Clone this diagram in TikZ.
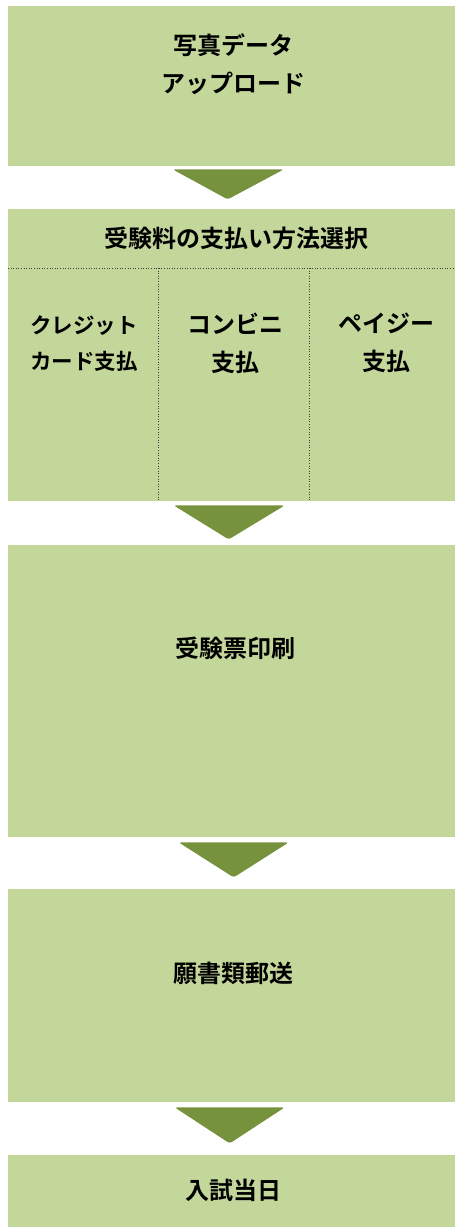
\documentclass[tikz,border=0pt]{standalone}
\usepackage{fontspec}
\setmainfont{Noto Sans CJK JP}[BoldFont={* Bold}]
\usetikzlibrary{calc}

\definecolor{boxgreen}{HTML}{C4D79B}
\definecolor{arrowgreen}{HTML}{76923C}

\begin{document}
\begin{tikzpicture}[x=1pt, y=-1pt,
  box/.style={fill=boxgreen, draw=none, anchor=north west, minimum width=447pt, inner sep=0pt},
  lbl/.style={align=center, inner sep=0pt, font=\bfseries\fontsize{24}{38}\selectfont},
  smalllbl/.style={lbl, font=\bfseries\fontsize{21.5}{36}\selectfont},
  stepmark/.style={fill=arrowgreen, rounded corners=2.5pt},
  divider/.style={draw=black!75, dotted, line width=0.6pt}]
  \useasboundingbox (0,0) rectangle (455,1227);
  %boxes
  \node[box, minimum height=160pt](photo) at (8,6){};
  \node[box, minimum height=292pt](pay) at (8,209){};
  \node[box, minimum height=292pt](ticket) at (8,545){};
  \node[box, minimum height=213pt](mail) at (8,889){};
  \node[box, minimum height=80pt](exam) at (8,1155){};
  % texts
  \node[lbl](photoT) at (233,64){写真データ\\アップロード};
  \node[lbl](payT) at (236,238){受験料の支払い方法選択};
  \node[smalllbl](cardT) at (84,344){クレジット\\カード支払};
  \node[lbl](convT) at (235,343){コンビニ\\支払};
  \node[lbl](payeasyT) at (386,343){ペイジー\\支払};
  \node[lbl](ticketT) at (235,648){受験票印刷};
  \node[lbl](mailT) at (233,973){願書類郵送};
  \node[lbl](examT) at (233,1190){入試当日};
  % dotted lines in the payment box
  \coordinate (cut) at ($(pay.north west)+(0,59)$);
  \coordinate (colA) at (158,268);
  \coordinate (colB) at (309,268);
  \draw[divider] (cut) -- (cut -| pay.east);
  \draw[divider] (colA) -- (colA |- pay.south);
  \draw[divider] (colB) -- (colB |- pay.south);
  % arrows
  \fill[stepmark] ($(photo.south)+(-59,3)$) -- ($(photo.south)+(52,3)$) -- ($(photo.south)+(-4,33)$) -- cycle;
  \fill[stepmark] ($(pay.south)+(-58,4)$) -- ($(pay.south)+(53,4)$) -- ($(pay.south)+(-3,38)$) -- cycle;
  \fill[stepmark] ($(ticket.south)+(-53,5)$) -- ($(ticket.south)+(57,5)$) -- ($(ticket.south)+(2,40)$) -- cycle;
  \fill[stepmark] ($(mail.south)+(-57,5)$) -- ($(mail.south)+(53,5)$) -- ($(mail.south)+(-2,41)$) -- cycle;
\end{tikzpicture}
\end{document}
